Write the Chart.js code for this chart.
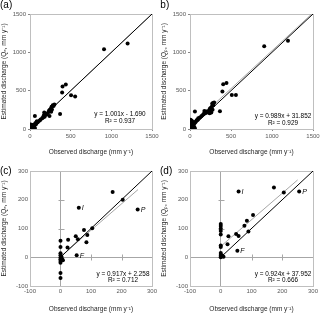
<!DOCTYPE html>
<html>
<head>
<meta charset="utf-8">
<script src="https://cdn.jsdelivr.net/npm/chart.js@4.4.1/dist/chart.umd.min.js"></script>
<style>
  body { margin: 0; background: #fff; }
  .cell { position: absolute; width: 160px; height: 157px; overflow: hidden; }
  .cell canvas { position: absolute; left: 0; top: 0; }
  .tag { position: absolute; font: 10px "Liberation Sans", Arial, sans-serif; color: #000; }
</style>
</head>
<body>
<div class="cell" style="left:0;top:0"><canvas id="chartA" width="160" height="157"></canvas><span class="tag" style="left:0;top:-1px">(a)</span></div>
<div class="cell" style="left:160px;top:0"><canvas id="chartB" width="160" height="157"></canvas><span class="tag" style="left:-3px;top:-1px">(b)</span></div>
<div class="cell" style="left:0;top:157px"><canvas id="chartC" width="160" height="157"></canvas><span class="tag" style="left:0;top:8px">(c)</span></div>
<div class="cell" style="left:160px;top:157px"><canvas id="chartD" width="160" height="157"></canvas><span class="tag" style="left:0;top:8px">(d)</span></div>
<script>
// observed (x) vs estimated (y) discharge, mm/yr
const obsA = [1200, 910, 440, 400, 395, 505, 555, 370, 60, 300, 280, 265, 255, 245, 235, 260, 225, 210, 190, 175, 170, 180, 160, 200, 150, 130, 120, 100, 90, 80, 75, 70, 65, 50, 45, 40, 30, 25, 20, 15, 10, 5, 10, 30, 55, 60, 85, 240, 270, 290];
const estA = [1115, 1040, 580, 555, 475, 440, 425, 195, 170, 320, 310, 290, 265, 250, 240, 225, 220, 200, 200, 215, 180, 160, 150, 185, 140, 125, 110, 95, 85, 90, 70, 60, 75, 50, 40, 55, 30, 45, 20, 10, 35, 5, 60, 15, 20, 5, 100, 170, 255, 300];

const obsB = [1195, 905, 445, 405, 395, 510, 560, 365, 60, 295, 280, 270, 285, 265, 250, 240, 255, 230, 220, 210, 200, 185, 190, 175, 170, 160, 240, 260, 275, 140, 120, 100, 95, 80, 70, 60, 50, 40, 30, 25, 20, 15, 10, 8, 5, 5, 3, 12, 30, 50, 60];
const estB = [1150, 1080, 600, 585, 490, 445, 445, 230, 228, 345, 340, 330, 310, 290, 275, 260, 240, 230, 215, 230, 215, 205, 225, 235, 200, 190, 205, 215, 250, 170, 150, 140, 120, 115, 95, 80, 70, 90, 60, 40, 110, 30, 80, 15, 120, 50, 5, 100, 20, 30, 10];

const obsC = [0, 0, 0, 0, 0, 0, 0, 0, 0, 0, 5, 8, 3, 23, 25, 50, 57, 60, 53, 77, 85, 88, 104, 171, 204, 253];
const estC = [57, 36, 14, 7, -1, -7, -13, -19, -55, -72, -5, -10, 3, 34, 61, 73, 63, 172, 7, 95, 52, 77, 101, 227, 200, 166];

const obsD = [0, 0, 0, 0, 0, 0, 0, 0, 0, 0, 0, 5, 9, 22, 25, 50, 58, 58, 54, 77, 85, 90, 105, 173, 205, 255];
const estD = [116, 109, 100, 91, 79, 41, 36, 15, 8, 4, 0, 6, 2, 45, 73, 81, 74, 229, 23, 110, 127, 90, 147, 243, 225, 229];

// labelled sites in (c) and (d)
const siteNames = ["I", "F", "P"];
const siteObsC = [60, 53, 253];
const siteEstC = [172, 7, 166];
const siteObsD = [58, 54, 255];
const siteEstD = [229, 23, 229];

// trendlines: slope, intercept, x range
const fitA = { slope: 1.001, icpt: -1.690, from: 0, to: 1480, text: ["y = 1.001x - 1.690", "R² = 0.937"] };
const fitB = { slope: 0.989, icpt: 31.852, from: 0, to: 1480, text: ["y = 0.989x + 31.852", "R² = 0.929"] };
const fitC = { slope: 0.917, icpt: 2.258, from: 0, to: 254, text: ["y = 0.917x + 2.258", "R² = 0.712"] };
const fitD = { slope: 0.924, icpt: 37.952, from: 0, to: 250, text: ["y = 0.924x + 37.952", "R² = 0.666"] };

const FONT = '"Liberation Sans", Arial, sans-serif';

const framePlugin = {
    id: "frame",
    beforeDatasetsDraw(chart) {
        const a = chart.chartArea, ctx = chart.ctx;
        ctx.save();
        ctx.strokeStyle = "#bfbfbf";
        ctx.lineWidth = 1;
        ctx.strokeRect(Math.round(a.left) + 0.5, Math.round(a.top) + 0.5, Math.round(a.right - a.left), Math.round(a.bottom - a.top));
        const o = chart.options.plugins.frame;
        if (o && o.cross) {
            // tick marks along the zero axes
            const xs = chart.scales.x, ys = chart.scales.y;
            const x0 = Math.round(xs.getPixelForValue(0)) + 0.5, y0 = Math.round(ys.getPixelForValue(0)) + 0.5;
            ctx.strokeStyle = "#a6a6a6";
            ctx.beginPath();
            ys.ticks.forEach(t => {
                if (t.value === 0 || t.value === ys.min || t.value === ys.max) return;
                const p = Math.round(ys.getPixelForValue(t.value)) + 0.5;
                ctx.moveTo(x0 - 3, p); ctx.lineTo(x0 + 3, p);
            });
            xs.ticks.forEach(t => {
                if (t.value === 0 || t.value === xs.min || t.value === xs.max) return;
                const p = Math.round(xs.getPixelForValue(t.value)) + 0.5;
                ctx.moveTo(p, y0 - 3); ctx.lineTo(p, y0 + 3);
            });
            ctx.stroke();
        }
        ctx.restore();
    },
};

const notesPlugin = {
    id: "notes",
    afterDatasetsDraw(chart) {
        const o = chart.options.plugins.notes;
        const a = chart.chartArea, ctx = chart.ctx;
        ctx.save();
        ctx.fillStyle = "#000";
        ctx.textAlign = "center";
        ctx.textBaseline = "middle";
        ctx.font = "6.4px " + FONT;
        ctx.fillText(o.text[0], a.right - o.dx, a.bottom - o.dy1);
        ctx.fillText(o.text[1], a.right - o.dx, a.bottom - o.dy2);
        if (o.sitesX) {
            ctx.font = "italic 7px " + FONT;
            ctx.textAlign = "left";
            o.sitesX.forEach((v, i) => {
                const px = chart.scales.x.getPixelForValue(v);
                const py = chart.scales.y.getPixelForValue(o.sitesY[i]);
                ctx.fillText(siteNames[i], px + 3, py + 0.5);
            });
        }
        ctx.restore();
    },
};

function axis(min, max, step, title, isY, cross) {
    return {
        type: "linear",
        min: min,
        max: max,
        ticks: {
            stepSize: step,
            padding: 2,
            color: "#595959",
            font: { size: 6, family: FONT },
            callback: (value) => String(value),
        },
        grid: cross
            ? {
                drawOnChartArea: true,
                drawTicks: false,
                color: (c) => (c.tick && c.tick.value === 0 ? "#a6a6a6" : "rgba(0,0,0,0)"),
            }
            : { drawOnChartArea: false, drawTicks: true, tickLength: 2, color: "#868686" },
        border: { display: !cross, color: "#868686" },
        title: {
            display: true,
            text: title,
            color: "#262626",
            font: { size: 6.5, family: FONT },
            padding: { top: 0, bottom: 1 },
        },
        afterFit: (s) => {
            if (isY) {
                s.width = 30;
                s.paddingTop = 0;
                s.paddingBottom = 0;
            } else {
                s.height = 28;
                s.paddingLeft = 0;
                s.paddingRight = 0;
            }
        },
    };
}

function pts(xs, ys) {
    return xs.map((v, i) => ({ x: v, y: ys[i] }));
}

function initPanel(id, obs, est, fit, range, yTitle, opts) {
    const el = document.getElementById(id);
    if (!el) return;
    const [min, max, step] = range;
    new Chart(el, {
        type: "scatter",
        data: {
            datasets: [
                {
                    data: pts(obs, est),
                    pointRadius: 2,
                    pointBackgroundColor: "#000",
                    pointBorderWidth: 0,
                },
                {
                    data: [{ x: 0, y: 0 }, { x: max, y: max }],
                    showLine: true,
                    borderColor: "#000",
                    borderWidth: 1,
                    pointRadius: 0,
                },
                {
                    data: [
                        { x: fit.from, y: fit.slope * fit.from + fit.icpt },
                        { x: fit.to, y: fit.slope * fit.to + fit.icpt },
                    ],
                    showLine: true,
                    borderColor: "#a6a6a6",
                    borderWidth: 1,
                    pointRadius: 0,
                },
            ],
        },
        options: {
            responsive: false,
            animation: false,
            layout: { padding: { top: opts.top, right: opts.right, left: 0, bottom: 0 } },
            plugins: {
                legend: { display: false },
                tooltip: { enabled: false },
                frame: { cross: opts.cross },
                notes: {
                    text: fit.text,
                    dx: opts.dx,
                    dy1: opts.dy1,
                    dy2: opts.dy2,
                    sitesX: opts.sitesX,
                    sitesY: opts.sitesY,
                },
            },
            scales: {
                x: axis(min, max, step, "Observed discharge (mm y⁻¹)", false, opts.cross),
                y: axis(min, max, step, yTitle, true, opts.cross),
            },
        },
        plugins: [framePlugin, notesPlugin],
    });
}

initPanel("chartA", obsA, estA, fitA, [0, 1500, 500], "Estimated discharge (Qₑ, mm y⁻¹)",
    { top: 14, right: 8, dx: 32, dy1: 15, dy2: 8, cross: false });
initPanel("chartB", obsB, estB, fitB, [0, 1500, 500], "Estimated discharge (Qₚ, mm y⁻¹)",
    { top: 14, right: 7, dx: 30, dy1: 12.5, dy2: 5.5, cross: false });
initPanel("chartC", obsC, estC, fitC, [-100, 300, 100], "Estimated discharge (Qₑ, mm y⁻¹)",
    { top: 14, right: 8, dx: 29, dy1: 12, dy2: 5.5, cross: true, sitesX: siteObsC, sitesY: siteEstC });
initPanel("chartD", obsD, estD, fitD, [-100, 300, 100], "Estimated discharge (Qₚ, mm y⁻¹)",
    { top: 14, right: 7, dx: 30, dy1: 12, dy2: 5.5, cross: true, sitesX: siteObsD, sitesY: siteEstD });
</script>
</body>
</html>
